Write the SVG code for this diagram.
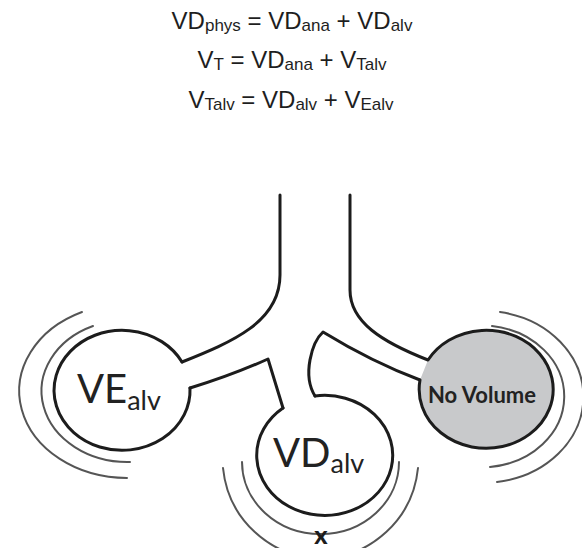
<svg xmlns="http://www.w3.org/2000/svg" width="582" height="548" viewBox="0 0 582 548">
  <style>
    .eq { font-family: "Liberation Sans", Arial, sans-serif; font-size: 24px; fill: #1e1e1e; text-anchor: middle; }
    .sub { font-size: 17px; }
    .wall { fill: none; stroke: #1c1c1c; stroke-width: 3; stroke-linecap: round; stroke-linejoin: round; }
    .wave { fill: none; stroke: #555; stroke-width: 2; stroke-linecap: round; }
    .lbl { font-family: Lato, "Open Sans", sans-serif; fill: #222; }
    .big { font-size: 40px; }
    .small { font-size: 27px; }
  </style>
  <rect width="582" height="548" fill="#fff"/>

  <!-- equations -->
  <g id="equations">
    <text class="eq" x="292" y="29">VD<tspan class="sub" dy="2">phys</tspan><tspan dy="-2"> = VD</tspan><tspan class="sub" dy="2">ana</tspan><tspan dy="-2"> + VD</tspan><tspan class="sub" dy="2">alv</tspan></text>
    <text class="eq" x="292" y="68">V<tspan class="sub" dy="2">T</tspan><tspan dy="-2"> = VD</tspan><tspan class="sub" dy="2">ana</tspan><tspan dy="-2"> + V</tspan><tspan class="sub" dy="2">Talv</tspan></text>
    <text class="eq" x="291" y="108">V<tspan class="sub" dy="2">Talv</tspan><tspan dy="-2"> = VD</tspan><tspan class="sub" dy="2">alv</tspan><tspan dy="-2"> + V</tspan><tspan class="sub" dy="2">Ealv</tspan></text>
  </g>

  <!-- airway walls -->
  <g id="airways">
    <path class="wall" d="M280,195 V275 C280,322 232,342 182,362"/>
    <path class="wall" d="M350,195 V290 C350,322 382,342 428,360"/>
    <path class="wall" d="M190,388 Q230,376 268,359 L283,408"/>
    <path class="wall" d="M420,380 Q372,362 323,332 C312,342 302,375 315,396"/>
  </g>

  <!-- ventilated alveolus -->
  <g id="ve-alv">
    <path class="wall" d="M182,362 A68,60 0 1 0 190,388"/>
    <path class="wave" d="M93,326 A86,71 0 0 0 130,462"/>
    <path class="wave" d="M82,312 A108,87 0 0 0 127,478"/>
    <text class="lbl" x="77" y="403"><tspan class="big">VE</tspan><tspan class="small" dy="7">alv</tspan></text>
  </g>

  <!-- dead-space alveolus -->
  <g id="vd-alv">
    <path class="wall" d="M283,408 A68,60 0 1 0 315,396"/>
    <path class="wave" d="M242,462 A78.5,72 0 0 0 399,462"/>
    <path class="wave" d="M223,468 A98,100 0 0 0 418,468"/>
    <text class="lbl" x="273" y="467"><tspan class="big">VD</tspan><tspan class="small" dy="6">alv</tspan></text>
    <text x="321" y="544" font-family="Lato, 'Open Sans', sans-serif" font-size="25" font-weight="900" fill="#1c1c1c" text-anchor="middle">x</text>
  </g>

  <!-- collapsed alveolus -->
  <g id="no-volume">
    <path d="M428,360 A67,59 0 1 1 420,380 Z" fill="#c8c9cb"/>
    <path class="wall" d="M428,360 A67,59 0 1 1 420,380"/>
    <path class="wave" d="M492,326 A83,71 0 0 1 490,467"/>
    <path class="wave" d="M500,312 A100,86 0 0 1 497,482"/>
    <text class="lbl" x="482" y="403" font-size="22" font-weight="bold" fill="#333" text-anchor="middle">No Volume</text>
  </g>
</svg>
